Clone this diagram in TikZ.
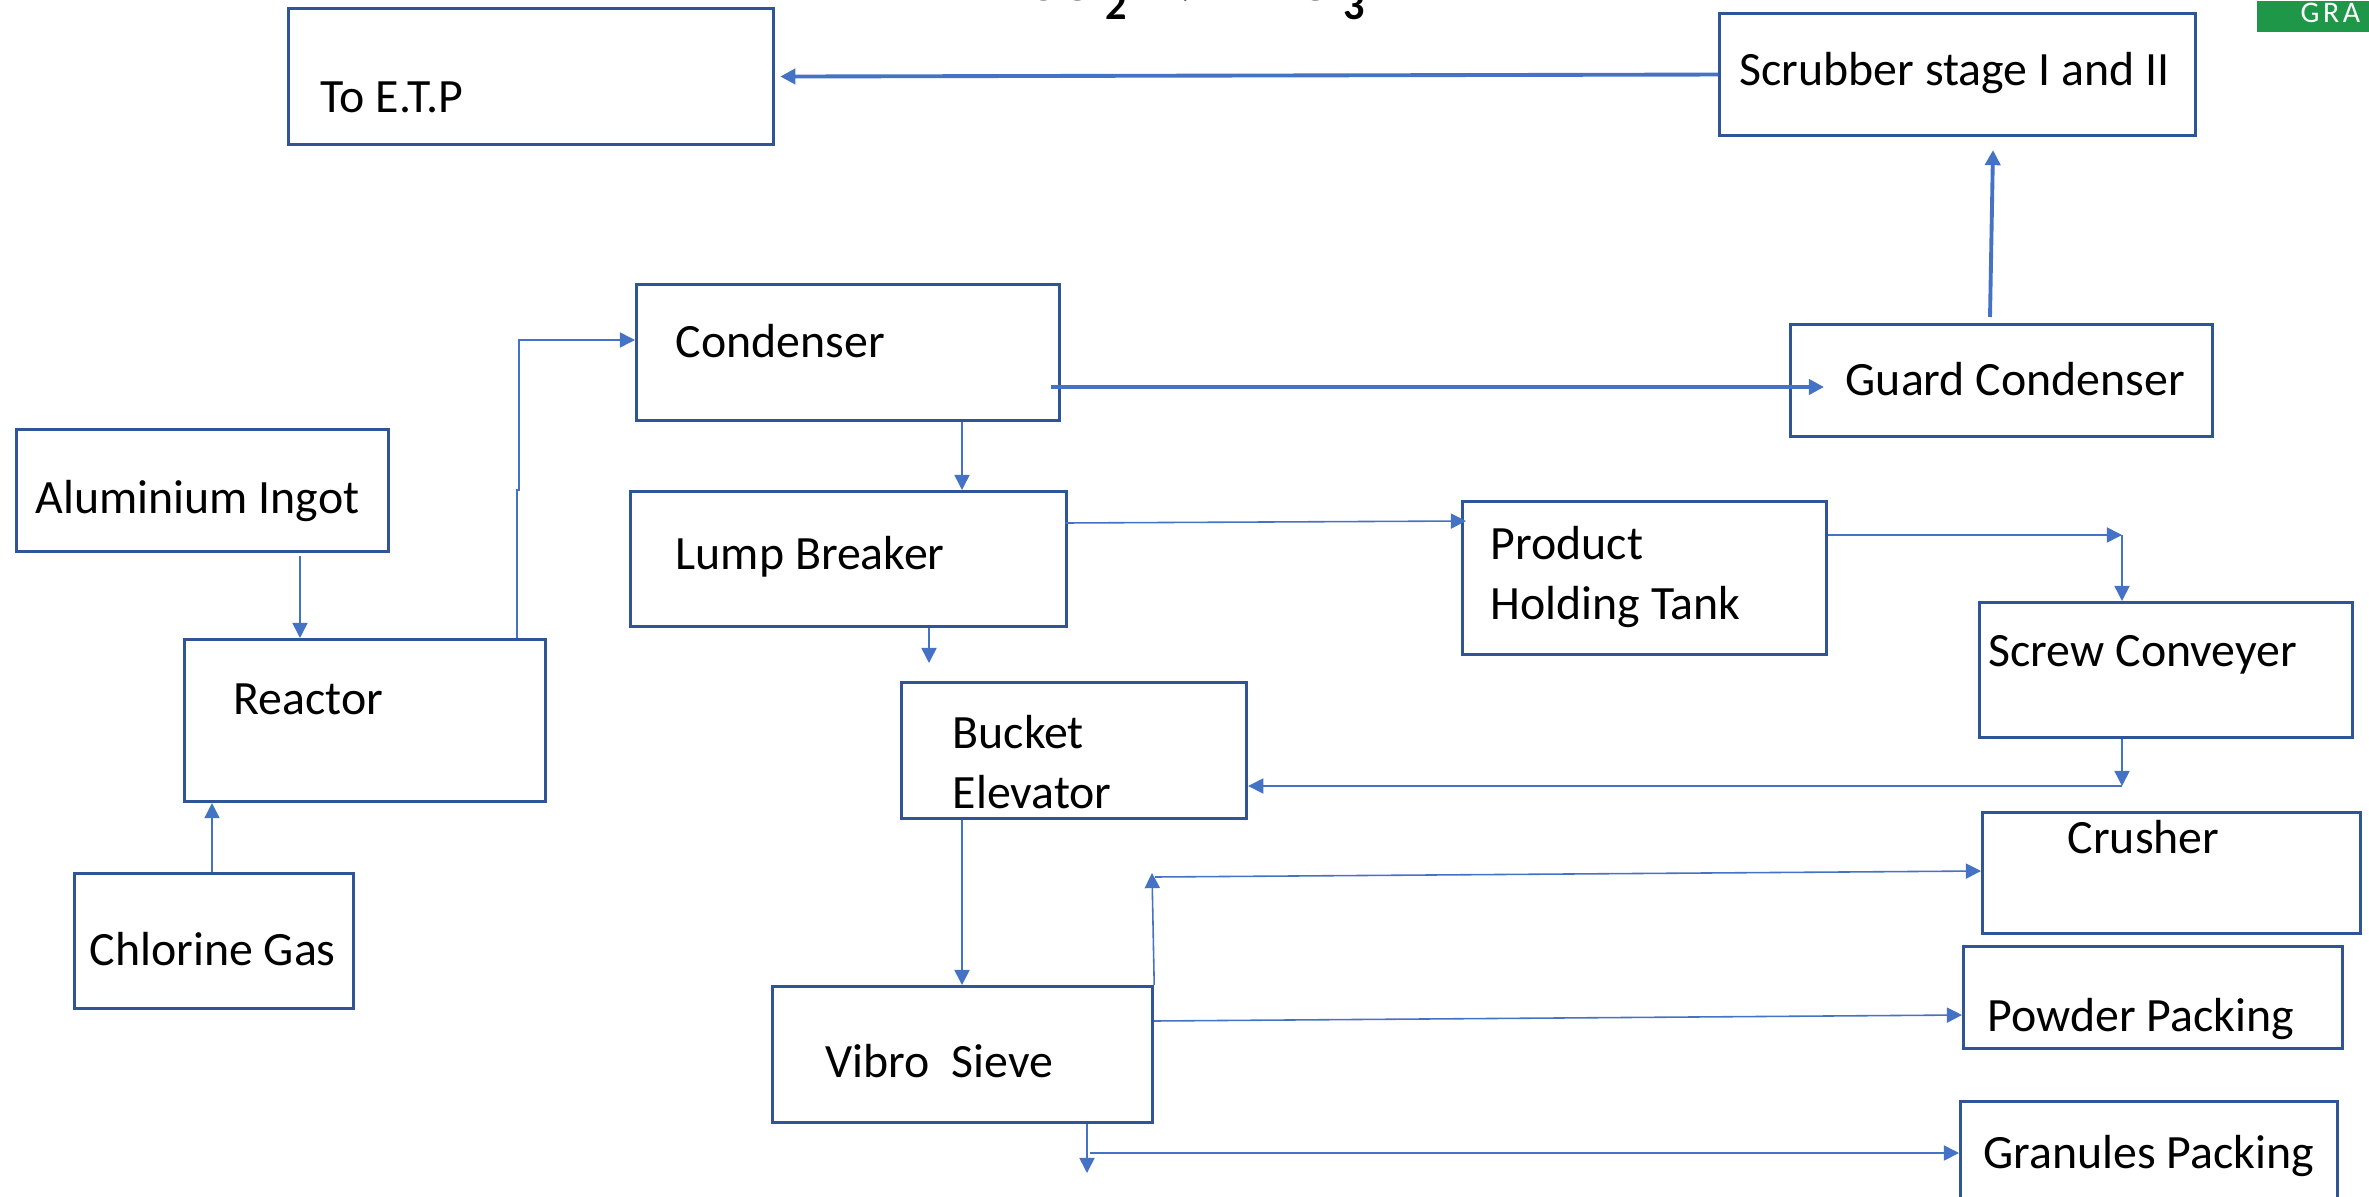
\documentclass[tikz,border=0pt]{standalone}
\usepackage{fontspec}
\setmainfont{Carlito}
\usetikzlibrary{arrows.meta,calc}

\definecolor{boxblue}{RGB}{47,85,151}
\definecolor{linkblue}{RGB}{68,114,196}
\definecolor{tabgreen}{RGB}{30,152,72}

\begin{document}
\begin{tikzpicture}[
  x=0.01cm, y=-0.01cm,
  font=\fontsize{13.6}{16.8}\selectfont,
  blk/.style={draw=boxblue,line width=0.85pt,anchor=north west,inner sep=0pt},
  txt/.style={anchor=base west,inner sep=0pt,align=left},
  tn/.style={draw=linkblue,line width=0.45pt,-{Triangle[length=4.3pt,width=4.3pt]}},
  tk/.style={draw=linkblue,line width=1.1pt,-{Triangle[length=4.3pt,width=4.3pt]}}]

 \clip (0,0) rectangle (2369,1197);

 % ---- heading (cut off at the top) ----
 \node[txt,font=\fontsize{17}{20}\selectfont\bfseries] (title) at (890,1)
   {2Al + 3Cl\textsubscript{\raisebox{-2.6pt}{\large 2}} $\rightarrow$ 2AlCl\textsubscript{\raisebox{-2.6pt}{\large 3}}};
 \node[fill=tabgreen,anchor=north west,inner sep=0pt,minimum width=1.2cm,minimum height=0.31cm] (tab) at (2256,0) {};
 \node[txt,text=white,font=\fontsize{8.5}{9}\selectfont\addfontfeatures{LetterSpace=12}] (tab-t) at (2300,23) {GRA};

 % ---- boxes ----
 \node[blk,minimum width=4.85cm,minimum height=1.36cm] (etp) at (287,7) {};
 \node[blk,minimum width=4.76cm,minimum height=1.22cm] (scrub) at (1718,12) {};
 \node[blk,minimum width=4.23cm,minimum height=1.36cm] (cond) at (635,283) {};
 \node[blk,minimum width=4.22cm,minimum height=1.12cm] (guard) at (1789,323) {};
 \node[blk,minimum width=3.72cm,minimum height=1.22cm] (alu) at (15,428) {};
 \node[blk,minimum width=3.61cm,minimum height=1.62cm] (reactor) at (183,638) {};
 \node[blk,minimum width=2.79cm,minimum height=1.35cm] (chlorine) at (73,872) {};
 \node[blk,minimum width=4.36cm,minimum height=1.35cm] (lump) at (629,490) {};
 \node[blk,minimum width=3.64cm,minimum height=1.53cm] (holding) at (1461,500) {};
 \node[blk,minimum width=3.73cm,minimum height=1.35cm] (screw) at (1978,601) {};
 \node[blk,minimum width=3.45cm,minimum height=1.36cm] (bucket) at (900,681) {};
 \node[blk,minimum width=3.78cm,minimum height=1.21cm] (crusher) at (1981,811) {};
 \node[blk,minimum width=3.79cm,minimum height=1.02cm] (powder) at (1962,945) {};
 \node[blk,minimum width=3.80cm,minimum height=1.36cm] (vibro) at (771,985) {};
 \node[blk,minimum width=3.77cm,minimum height=1.30cm] (granules) at (1959,1100) {};

 % ---- labels ----
 \node[txt] (etp-t) at (320,113) {To E.T.P};
 \node[txt] (scrub-t) at (1739,86) {Scrubber stage I and II};
 \node[txt] (cond-t) at (675,357) {Condenser};
 \node[txt] (guard-t) at (1845,395) {Guard Condenser};
 \node[txt] (alu-t) at (35,513) {Aluminium Ingot};
 \node[txt] (reactor-t) at (233,714) {Reactor};
 \node[txt] (chlorine-t) at (89,965) {Chlorine Gas};
 \node[txt] (lump-t) at (675,569) {Lump Breaker};
 \node[txt] (holding-t) at (1490,619) {Product\\Holding Tank};
 \node[txt] (screw-t) at (1988,666) {Screw Conveyer};
 \node[txt] (bucket-t) at (952,808) {Bucket\\Elevator};
 \node[txt] (crusher-t) at (2067,853) {Crusher};
 \node[txt] (powder-t) at (1987,1031) {Powder Packing};
 \node[txt] (vibro-t) at (825,1077) {Vibro\ \ Sieve};
 \node[txt] (granules-t) at (1983,1168) {Granules Packing};

 % ---- free ends and bends ----
 \coordinate (lumpout) at (929,663);
 \coordinate (pturn) at (2122,535);
 \coordinate (sturn) at (2122,786);
 \coordinate (vup) at (1152,873);
 \coordinate (vdown) at (1087,1173);

 % ---- gas line ----
 \draw[tk] (scrub.west) -- ($(etp.east)+(5,0)$);
 \draw[tk] ($(guard.north -| 1990,0)+(0,-6)$) -- ($(scrub.south -| 1993,0)+(0,13)$);
 \draw[tk] ($(cond.east |- 0,387)+(-10,0)$) -- ($(guard.west |- 0,387)+(35,0)$);

 % ---- feed ----
 \draw[tn] ($(alu.south -| 300,0)+(0,3)$) -- (reactor.north -| 300,0);
 \draw[tn] (chlorine.north -| 212,0) -- (reactor.south -| 212,0);
 \draw[tn] (reactor.north -| 517,0) -- (517,490) -- (519,490) -- (519,340) -- (cond.west |- 0,340);

 % ---- solids ----
 \draw[tn] (cond.south -| 962,0) -- (lump.north -| 962,0);
 \draw[tn] (lump.south -| lumpout) -- (lumpout);
 \draw[tn] ($(lump.east |- 0,523)+(-3,0)$) -- ($(holding.west |- 0,521)+(5,0)$);
 \draw[tn] (holding.east |- pturn) -- (pturn);
 \draw[tn] (pturn) -- (screw.north -| pturn);
 \draw[tn] (screw.south -| sturn) -- (sturn);
 \draw[tn] (sturn) -- (bucket.east |- sturn);
 \draw[tn] (bucket.south -| 962,0) -- (vibro.north -| 962,0);
 \draw[tn] (vibro.north east) -- (vup);
 \draw[tn] ($(vup)+(3,4)$) -- (crusher.west |- 0,871);
 \draw[tn] (vibro.east |- 0,1021) -- (powder.west |- 0,1015);
 \draw[tn] (vibro.south -| vdown) -- (vdown);
 \draw[tn] ($(vdown |- 0,1153)+(3,0)$) -- (granules.west |- 0,1153);
\end{tikzpicture}
\end{document}
